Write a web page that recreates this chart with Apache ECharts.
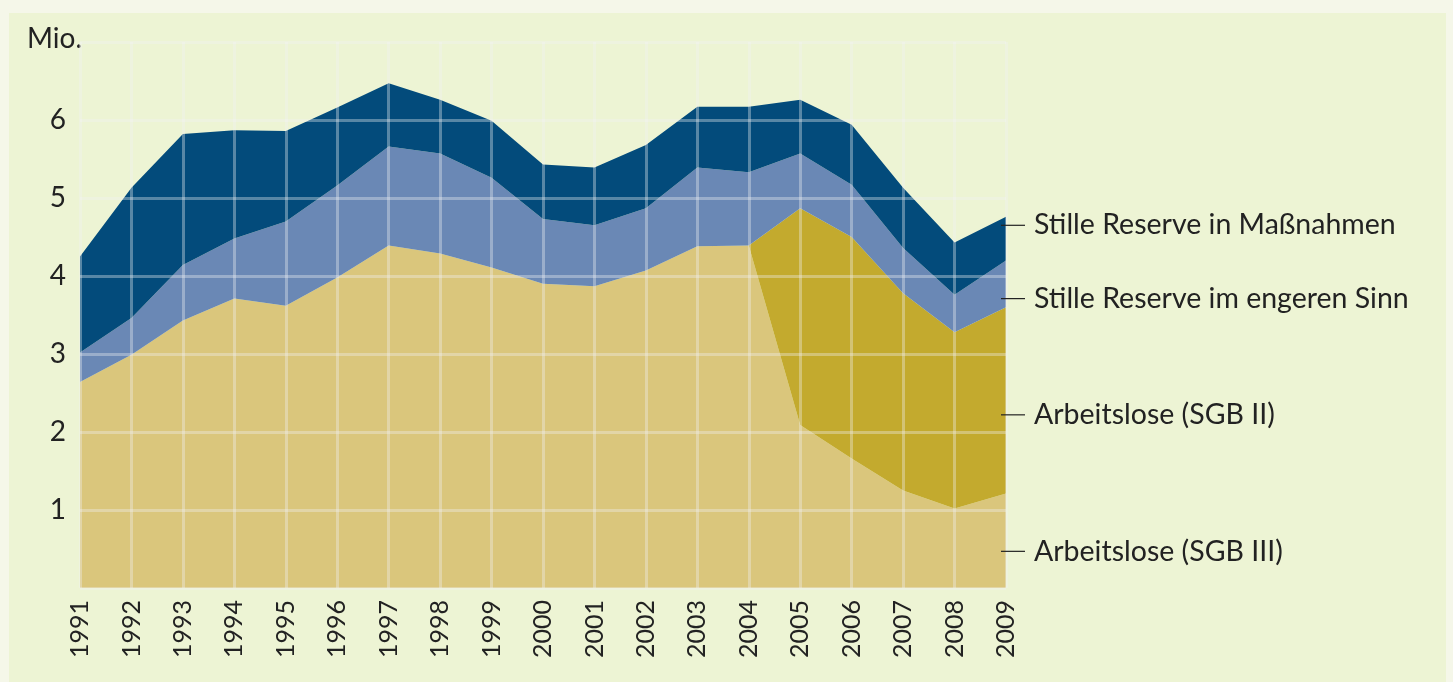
<!DOCTYPE html>
<html><head><meta charset="utf-8">
<script src="https://cdn.jsdelivr.net/npm/echarts@6/dist/echarts.min.js"></script>
<style>html,body{margin:0;padding:0;background:#f5f7e9;}#c{position:absolute;left:9px;top:13px;width:1437px;height:669px;background:#edf4d4;}</style>
</head><body><div id="c"></div>
<script>
const years = ['1991','1992','1993','1994','1995','1996','1997','1998','1999','2000','2001','2002','2003','2004','2005','2006','2007','2008','2009'];
const sgb3 = [2.64,2.99,3.43,3.71,3.62,3.98,4.39,4.29,4.11,3.90,3.87,4.07,4.38,4.39,2.09,1.66,1.25,1.02,1.21];
const sgb2 = ['-','-','-','-','-','-','-','-','-','-','-','-','-',0,2.78,2.84,2.53,2.26,2.39];
const engeren = [0.38,0.47,0.71,0.77,1.08,1.18,1.27,1.28,1.15,0.83,0.78,0.80,1.01,0.94,0.70,0.67,0.58,0.48,0.60];
const massnahmen = [1.23,1.67,1.68,1.39,1.16,1.00,0.81,0.69,0.73,0.70,0.74,0.81,0.78,0.84,0.69,0.77,0.77,0.67,0.56];
const seriesNames = ['Arbeitslose (SGB III)','Arbeitslose (SGB II)','Stille Reserve im engeren Sinn','Stille Reserve in Maßnahmen'];
const yTicks = [1,2,3,4,5,6];
const unitLabel = 'Mio.';

const FONT = 'Lato, "Noto Sans", sans-serif';
const colors = ['#dac67c','#c3aa2e','#6a88b5','#034b7b'];
const chart = echarts.init(document.getElementById('c'));
const gridLine = {show:true, lineStyle:{color:'rgba(240,240,245,0.36)', width:3}};
function area(name, data, color){
  return {type:'line', name, data, stack:'total', symbol:'none', smooth:false,
    lineStyle:{width:0}, areaStyle:{color, opacity:1}, itemStyle:{color}, z:2, silent:true};
}
const labelAnchors = [0.47, 2.22, 3.71, 4.65];
chart.setOption({
  animation:false,
  grid:{left:71, right:440, top:29, bottom:94},
  xAxis:{type:'category', data:years, boundaryGap:false, z:10,
    axisLine:{show:false}, axisTick:{show:false},
    axisLabel:{rotate:90, margin:12, color:'#222', fontFamily:FONT, fontSize:25},
    splitLine:gridLine},
  yAxis:{type:'value', min:0, max:7, interval:1, z:10,
    axisLine:{show:false}, axisTick:{show:false},
    axisLabel:{margin:14, color:'#222', fontFamily:FONT, fontSize:28,
      formatter:v => yTicks.includes(v) ? String(v) : ''},
    splitLine:gridLine},
  series:[area(seriesNames[0],sgb3,colors[0]), area(seriesNames[1],sgb2,colors[1]),
          area(seriesNames[2],engeren,colors[2]), area(seriesNames[3],massnahmen,colors[3])]
});
const graphics = [{type:'text', left:18, top:12, style:{text:unitLabel, font:'28px '+FONT, fill:'#222'}}];
const xRight = chart.convertToPixel({xAxisIndex:0}, years[years.length-1]);
seriesNames.forEach((n,i)=>{
  const y = chart.convertToPixel({yAxisIndex:0}, labelAnchors[i]);
  graphics.push({type:'line', shape:{x1:xRight-5, y1:y, x2:xRight+19, y2:y}, style:{stroke:'#222', lineWidth:1.2}, z:20});
  graphics.push({type:'text', x:xRight+28, y:y, style:{text:n, font:'28.5px '+FONT, fill:'#222', textVerticalAlign:'middle'}, z:20});
});
chart.setOption({graphic:graphics});
</script></body></html>
